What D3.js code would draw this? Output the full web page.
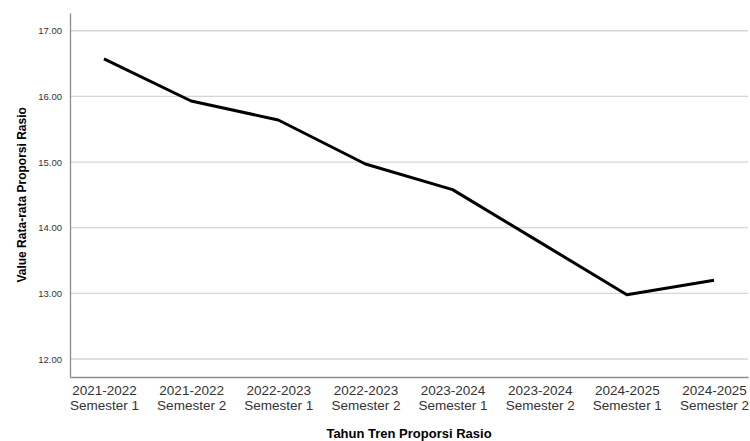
<!DOCTYPE html>
<html>
<head>
<meta charset="utf-8">
<script src="https://cdn.jsdelivr.net/npm/d3@7"></script>
<style>
  body { margin: 0; background: #fff; }
  text { font-family: "Liberation Sans", Arial, sans-serif; }
</style>
</head>
<body>
<svg id="viz" width="750" height="441"></svg>
<script>
// === DATA ===
const years = ["2021-2022", "2021-2022", "2022-2023", "2022-2023", "2023-2024", "2023-2024", "2024-2025", "2024-2025"];
const semesters = ["Semester 1", "Semester 2", "Semester 1", "Semester 2", "Semester 1", "Semester 2", "Semester 1", "Semester 2"];
const values = [16.57, 15.93, 15.64, 14.97, 14.58, 13.78, 12.98, 13.20];
const yTicks = [12, 13, 14, 15, 16, 17];

const svg = d3.select("#viz");
const margin = { top: 13, right: 2, bottom: 64, left: 70 };
const width = +svg.attr("width");
const height = +svg.attr("height");
const plotWidth = width - margin.left - margin.right;
const plotHeight = height - margin.top - margin.bottom;

const g = svg.append("g").attr("transform", `translate(${margin.left},${margin.top})`);

const idx = values.map((d, i) => i);

const x = d3.scalePoint()
  .domain(idx)
  .range([0, plotWidth])
  .padding(0.39);

const y = d3.scaleLinear()
  .domain([11.726, 17.27])
  .range([plotHeight, 0]);

// gridlines
g.selectAll(".grid")
  .data(yTicks)
  .enter()
  .append("line")
  .attr("x1", 0)
  .attr("x2", plotWidth)
  .attr("y1", d => y(d))
  .attr("y2", d => y(d))
  .attr("stroke", "#d6d6d6")
  .attr("stroke-width", 1.3);

// y axis
const yAxis = g.append("g")
  .call(d3.axisLeft(y).tickValues(yTicks).tickFormat(d3.format(".2f")).tickSize(0).tickPadding(8));
yAxis.select(".domain").attr("stroke", "#8c8c8c").attr("stroke-width", 1.3);
yAxis.selectAll("text")
  .attr("fill", "#333")
  .style("font-size", "9.5px")
  .style("font-family", "'Liberation Sans', Arial, sans-serif");

// x axis
const xAxis = g.append("g")
  .attr("transform", `translate(0,${plotHeight})`)
  .call(d3.axisBottom(x).tickSize(0).tickFormat(""));
xAxis.select(".domain").attr("stroke", "#8c8c8c").attr("stroke-width", 1.3);
xAxis.selectAll(".tick").each(function (d) {
  const t = d3.select(this).select("text")
    .attr("fill", "#333")
    .attr("y", 0)
    .attr("dy", null)
    .style("font-size", "13.5px")
    .style("font-family", "'Liberation Sans', Arial, sans-serif");
  t.append("tspan").attr("x", 0).attr("y", 18).text(years[d]);
  t.append("tspan").attr("x", 0).attr("y", 33).text(semesters[d]);
});

// axis titles
g.append("text")
  .attr("x", plotWidth / 2)
  .attr("y", plotHeight + 61)
  .attr("text-anchor", "middle")
  .attr("fill", "#000")
  .style("font-size", "13px")
  .style("font-weight", "bold")
  .text("Tahun Tren Proporsi Rasio");

g.append("text")
  .attr("transform", "rotate(-90)")
  .attr("x", -(y(14.5)))
  .attr("y", -44)
  .attr("text-anchor", "middle")
  .attr("fill", "#000")
  .style("font-size", "12px")
  .style("font-weight", "bold")
  .text("Value Rata-rata Proporsi Rasio");

// line
const line = d3.line()
  .x((d, i) => x(i))
  .y(d => y(d));

g.append("path")
  .datum(values)
  .attr("fill", "none")
  .attr("stroke", "#000")
  .attr("stroke-width", 3)
  .attr("stroke-linejoin", "round")
  .attr("d", line);
</script>
</body>
</html>
